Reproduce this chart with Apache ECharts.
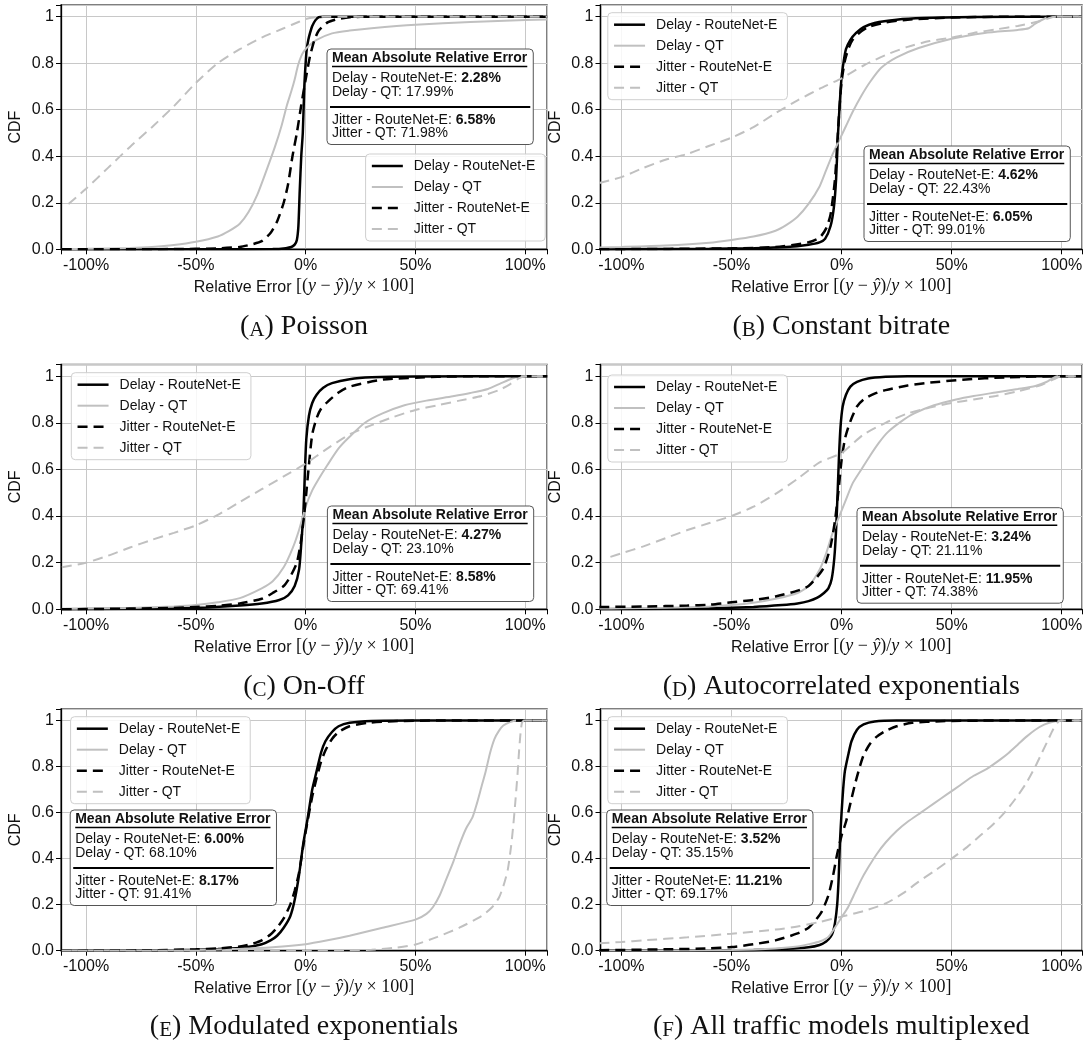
<!DOCTYPE html>
<html><head><meta charset="utf-8">
<script src="https://cdn.jsdelivr.net/npm/echarts@6/dist/echarts.min.js"></script>
<style>html,body{margin:0;padding:0;background:#fff}#c{width:1085px;height:1045px}</style>
</head><body><div id="c"></div>
<script>
// ---------------- DATA ----------------
const seriesNames = ['Delay - RouteNet-E', 'Delay - QT', 'Jitter - RouteNet-E', 'Jitter - QT'];
const panelLetters = ['A', 'B', 'C', 'D', 'E', 'F'];
const panelTitles = ['Poisson', 'Constant bitrate', 'On-Off', 'Autocorrelated exponentials', 'Modulated exponentials', 'All traffic models multiplexed'];
const maeDelayRN = ['2.28%', '4.62%', '4.27%', '3.24%', '6.00%', '3.52%'];
const maeDelayQT = ['17.99%', '22.43%', '23.10%', '21.11%', '68.10%', '35.15%'];
const maeJitterRN = ['6.58%', '6.05%', '8.58%', '11.95%', '8.17%', '11.21%'];
const maeJitterQT = ['71.98%', '99.01%', '69.41%', '74.38%', '91.41%', '69.17%'];
const xTickValues = [-100, -50, 0, 50, 100];
const yTickValues = [0, 0.2, 0.4, 0.6, 0.8, 1];

// (A) Poisson
const A_dRN_x = [-111, -40, -15, -9, -6.5, -5, -4, -3.3, -2.7, -2, -1.3, -0.6, 0, 0.5, 1.2, 2, 3, 4.5, 6, 8, 110];
const A_dRN_y = [0, 0, 0.001, 0.005, 0.01, 0.02, 0.04, 0.1, 0.25, 0.4, 0.5, 0.7, 0.8, 0.86, 0.9, 0.93, 0.96, 0.985, 0.998, 1, 1];
const A_dQT_x = [-111, -100, -80, -70, -60, -50, -40, -35, -30, -26, -22, -18, -14, -11, -8.5, -6.5, -5, -3.5, -2, -0.5, 1.5, 5, 12, 20, 30, 50, 75, 100, 110];
const A_dQT_y = [0.001, 0.002, 0.006, 0.01, 0.018, 0.032, 0.055, 0.078, 0.11, 0.16, 0.235, 0.335, 0.44, 0.53, 0.62, 0.68, 0.73, 0.79, 0.83, 0.855, 0.875, 0.9, 0.928, 0.94, 0.95, 0.965, 0.977, 0.985, 0.988];
const A_jRN_x = [-111, -60, -40, -30, -25, -20, -16, -13, -10, -8, -6, -4, -2, 0, 2, 4, 6, 10, 15, 20, 30, 110];
const A_jRN_y = [0, 0.001, 0.004, 0.01, 0.02, 0.035, 0.07, 0.12, 0.2, 0.28, 0.4, 0.5, 0.62, 0.73, 0.83, 0.9, 0.94, 0.975, 0.99, 0.997, 1, 1];
const A_jQT_x = [-108, -100, -90, -80, -70, -60, -50, -40, -30, -20, -10, -3, 0, 5, 10, 110];
const A_jQT_y = [0.195, 0.26, 0.35, 0.44, 0.525, 0.615, 0.715, 0.8, 0.86, 0.91, 0.95, 0.978, 0.99, 0.998, 1, 1];

// (B) Constant bitrate
const B_dRN_x = [-110, -60, -40, -25, -15, -10, -7.5, -5, -3.5, -2.5, -1.6, -0.8, 0, 1, 2, 4, 6.6, 10, 15, 25, 37, 60, 100, 109];
const B_dRN_y = [0, 0.002, 0.005, 0.01, 0.02, 0.03, 0.045, 0.1, 0.18, 0.3, 0.5, 0.63, 0.74, 0.81, 0.86, 0.9, 0.93, 0.955, 0.973, 0.987, 0.994, 0.998, 1, 1];
const B_dQT_x = [-110, -100, -80, -60, -50, -40, -30, -25, -20, -15, -10, -7, -4, -1, 2, 5, 9, 13, 18, 25, 35, 50, 65, 80, 85, 88, 93, 96, 109];
const B_dQT_y = [0.008, 0.01, 0.016, 0.028, 0.04, 0.055, 0.08, 0.105, 0.14, 0.195, 0.27, 0.34, 0.41, 0.47, 0.53, 0.59, 0.66, 0.72, 0.78, 0.825, 0.865, 0.905, 0.93, 0.943, 0.95, 0.97, 0.995, 1, 1];
const B_jRN_x = [-110, -50, -30, -15, -10, -7, -5, -3, -2, -1, 0, 1.5, 3, 5, 8, 12, 20, 30, 50, 80, 109];
const B_jRN_y = [0, 0.004, 0.01, 0.03, 0.05, 0.09, 0.15, 0.3, 0.45, 0.6, 0.72, 0.81, 0.86, 0.9, 0.93, 0.955, 0.975, 0.987, 0.996, 1, 1];
const B_jQT_x = [-110, -100, -90, -80, -70, -60, -50, -40, -30, -20, -10, 0, 10, 20, 30, 40, 50, 60, 70, 80, 90, 96, 100, 109];
const B_jQT_y = [0.285, 0.31, 0.35, 0.385, 0.41, 0.445, 0.48, 0.525, 0.585, 0.64, 0.69, 0.735, 0.79, 0.835, 0.87, 0.895, 0.91, 0.93, 0.945, 0.96, 0.98, 0.998, 1, 1];

// (C) On-Off
const C_dRN_x = [-111, -80, -60, -45, -30, -20, -12, -8, -5, -3, -2, -1, -0.3, 0.3, 1.5, 3, 5, 8, 12, 20, 30, 50, 110];
const C_dRN_y = [0, 0.002, 0.004, 0.008, 0.016, 0.025, 0.04, 0.06, 0.1, 0.17, 0.28, 0.42, 0.6, 0.73, 0.83, 0.885, 0.92, 0.95, 0.97, 0.987, 0.995, 0.999, 1];
const C_dQT_x = [-111, -100, -80, -60, -50, -40, -30, -20, -15, -10, -6, -3, 0, 3, 6, 10, 15, 20, 27, 35, 45, 55, 67, 75, 83, 89, 94, 98, 110];
const C_dQT_y = [0.002, 0.003, 0.006, 0.012, 0.018, 0.03, 0.048, 0.09, 0.12, 0.18, 0.26, 0.34, 0.44, 0.51, 0.56, 0.62, 0.69, 0.74, 0.8, 0.84, 0.875, 0.895, 0.914, 0.928, 0.945, 0.97, 0.99, 1, 1];
const C_jRN_x = [-111, -80, -60, -50, -40, -30, -20, -15, -10, -7, -4, -2, -0.5, 0.5, 1.5, 3, 5, 7, 10, 15, 20, 35, 60, 80, 110];
const C_jRN_y = [0, 0.003, 0.006, 0.01, 0.015, 0.025, 0.045, 0.07, 0.1, 0.14, 0.2, 0.3, 0.42, 0.52, 0.62, 0.75, 0.82, 0.86, 0.89, 0.93, 0.955, 0.985, 0.997, 1, 1];
const C_jQT_x = [-111, -100, -90, -80, -70, -60, -50, -40, -30, -20, -10, 0, 10, 20, 30, 40, 50, 60, 70, 80, 88, 93, 97, 100, 110];
const C_jQT_y = [0.18, 0.2, 0.23, 0.265, 0.298, 0.328, 0.36, 0.405, 0.46, 0.515, 0.57, 0.625, 0.69, 0.75, 0.79, 0.825, 0.855, 0.875, 0.895, 0.915, 0.94, 0.965, 0.99, 1, 1];

// (D) Autocorrelated exponentials
const D_dRN_x = [-110, -80, -60, -40, -27, -20, -15, -11, -8, -6, -4.5, -3.3, -2.5, -1.8, -1.2, -0.5, 0.5, 2, 4, 7, 12, 20, 30, 109];
const D_dRN_y = [0, 0.002, 0.004, 0.01, 0.018, 0.025, 0.035, 0.05, 0.07, 0.09, 0.13, 0.22, 0.34, 0.5, 0.65, 0.78, 0.87, 0.92, 0.955, 0.975, 0.99, 0.997, 1, 1];
const D_dQT_x = [-110, -100, -80, -60, -50, -40, -30, -20, -15, -10, -7, -4, -1, 2, 5, 9, 13, 17, 21, 27, 33, 42, 52, 60, 70, 80, 88, 93, 98, 109];
const D_dQT_y = [0.003, 0.004, 0.007, 0.012, 0.018, 0.028, 0.045, 0.07, 0.1, 0.17, 0.24, 0.33, 0.4, 0.47, 0.54, 0.6, 0.66, 0.715, 0.76, 0.805, 0.84, 0.875, 0.9, 0.915, 0.93, 0.945, 0.958, 0.975, 1, 1];
const D_jRN_x = [-110, -90, -70, -60, -50, -40, -30, -20, -15, -11, -8, -5, -3, -1.5, 0, 1.5, 3, 5, 7, 10, 15, 20, 30, 40, 55, 75, 100, 109];
const D_jRN_y = [0.01, 0.012, 0.016, 0.02, 0.03, 0.04, 0.055, 0.08, 0.1, 0.14, 0.18, 0.27, 0.38, 0.5, 0.64, 0.73, 0.78, 0.83, 0.87, 0.9, 0.925, 0.94, 0.96, 0.972, 0.985, 0.995, 1, 1];
const D_jQT_x = [-105, -100, -90, -80, -70, -60, -50, -40, -30, -20, -10, 0, 5, 10, 20, 30, 40, 50, 60, 70, 80, 90, 96, 100, 109];
const D_jQT_y = [0.225, 0.24, 0.27, 0.305, 0.34, 0.37, 0.4, 0.44, 0.495, 0.56, 0.63, 0.67, 0.71, 0.75, 0.8, 0.84, 0.865, 0.885, 0.9, 0.915, 0.935, 0.96, 0.985, 1, 1];

// (E) Modulated exponentials
const E_dRN_x = [-111, -70, -50, -40, -30, -25, -20, -16, -13, -10, -7, -5, -3, -1, 1, 3, 5, 7, 9, 12, 15, 20, 30, 50, 110];
const E_dRN_y = [0, 0.001, 0.004, 0.007, 0.012, 0.018, 0.028, 0.045, 0.065, 0.1, 0.15, 0.22, 0.33, 0.47, 0.58, 0.7, 0.78, 0.86, 0.91, 0.95, 0.975, 0.99, 0.998, 1, 1];
const E_dQT_x = [-111, -70, -50, -30, -15, 0, 10, 20, 35, 50, 55, 58, 61, 64, 67, 70, 73, 76, 78, 80, 82, 84, 86, 88, 90, 93, 96, 110];
const E_dQT_y = [0, 0.001, 0.003, 0.008, 0.015, 0.028, 0.045, 0.065, 0.1, 0.135, 0.16, 0.19, 0.24, 0.31, 0.38, 0.46, 0.53, 0.58, 0.64, 0.71, 0.78, 0.86, 0.92, 0.955, 0.978, 0.993, 1, 1];
const E_jRN_x = [-111, -70, -50, -40, -30, -25, -20, -16, -13, -10, -7, -5, -3, -1, 1, 3, 5, 7, 9, 12, 15, 20, 28, 40, 60, 110];
const E_jRN_y = [0, 0.002, 0.006, 0.01, 0.018, 0.028, 0.045, 0.07, 0.1, 0.14, 0.2, 0.26, 0.34, 0.46, 0.57, 0.67, 0.75, 0.82, 0.87, 0.92, 0.95, 0.975, 0.99, 0.997, 1, 1];
const E_jQT_x = [-111, 0, 20, 30, 40, 50, 60, 70, 80, 85, 88, 90, 92, 93.5, 94.6, 95.6, 96.5, 97.2, 97.8, 98.5, 99.5, 110];
const E_jQT_y = [0, 0, 0.002, 0.004, 0.012, 0.027, 0.06, 0.1, 0.15, 0.19, 0.23, 0.28, 0.35, 0.45, 0.55, 0.66, 0.77, 0.87, 0.94, 0.99, 1, 1];

// (F) All traffic models multiplexed
const F_dRN_x = [-110, -60, -40, -25, -15, -10, -7, -5, -4, -3, -2, -1.3, -0.7, 0, 0.7, 1.5, 3, 4.5, 7, 10, 15, 25, 109];
const F_dRN_y = [0, 0.001, 0.003, 0.008, 0.015, 0.025, 0.04, 0.06, 0.08, 0.12, 0.2, 0.32, 0.48, 0.6, 0.7, 0.78, 0.85, 0.91, 0.96, 0.983, 0.996, 1, 1];
const F_dQT_x = [-110, -70, -50, -30, -20, -14, -10, -6, -3, 0, 3, 6, 9, 12, 16, 20, 25, 30, 36, 42, 48, 54, 60, 66, 72, 76, 80, 84, 88, 92, 96, 100, 109];
const F_dQT_y = [0, 0.001, 0.003, 0.01, 0.018, 0.03, 0.04, 0.06, 0.1, 0.145, 0.19, 0.25, 0.31, 0.36, 0.42, 0.47, 0.52, 0.56, 0.6, 0.64, 0.68, 0.72, 0.76, 0.79, 0.83, 0.86, 0.895, 0.93, 0.96, 0.982, 0.995, 1, 1];
const F_jRN_x = [-110, -80, -60, -50, -40, -30, -20, -15, -12, -9, -6, -4, -2, 0, 2, 4, 6, 8, 10, 13, 16, 20, 25, 32, 45, 70, 109];
const F_jRN_y = [0.002, 0.006, 0.01, 0.016, 0.028, 0.045, 0.075, 0.1, 0.13, 0.17, 0.24, 0.32, 0.42, 0.5, 0.56, 0.64, 0.72, 0.79, 0.85, 0.9, 0.93, 0.955, 0.975, 0.99, 0.997, 1, 1];
const F_jQT_x = [-110, -100, -90, -70, -50, -30, -20, -10, 0, 10, 20, 28, 35, 42, 50, 57, 63, 69, 74, 79, 84, 88, 91, 94, 96, 98, 99.5, 109];
const F_jQT_y = [0.032, 0.038, 0.045, 0.058, 0.074, 0.092, 0.105, 0.125, 0.148, 0.172, 0.205, 0.25, 0.3, 0.345, 0.4, 0.45, 0.5, 0.55, 0.6, 0.66, 0.73, 0.8, 0.86, 0.92, 0.96, 0.99, 1, 1];

const panelData = [
  [[A_dRN_x, A_dRN_y], [A_dQT_x, A_dQT_y], [A_jRN_x, A_jRN_y], [A_jQT_x, A_jQT_y]],
  [[B_dRN_x, B_dRN_y], [B_dQT_x, B_dQT_y], [B_jRN_x, B_jRN_y], [B_jQT_x, B_jQT_y]],
  [[C_dRN_x, C_dRN_y], [C_dQT_x, C_dQT_y], [C_jRN_x, C_jRN_y], [C_jQT_x, C_jQT_y]],
  [[D_dRN_x, D_dRN_y], [D_dQT_x, D_dQT_y], [D_jRN_x, D_jRN_y], [D_jQT_x, D_jQT_y]],
  [[E_dRN_x, E_dRN_y], [E_dQT_x, E_dQT_y], [E_jRN_x, E_jRN_y], [E_jQT_x, E_jQT_y]],
  [[F_dRN_x, F_dRN_y], [F_dQT_x, F_dQT_y], [F_jRN_x, F_jRN_y], [F_jQT_x, F_jQT_y]]
];

// ---------------- LAYOUT / STYLE ----------------
const SANS = '"Liberation Sans", Arial, sans-serif';
const SERIF = '"Liberation Serif", "Times New Roman", serif';
const TXT = '#111';
const layout = {
  colLeft: [61, 600.5], colWidth: [486, 481.5],
  rowTop: [5, 364.5, 709], rowHeight: [244.3, 244.8, 241.7],
  xRange: [[-111.4, 109.9], [-109.5, 109.2]],
  captionY: [327, 686.5, 1027],
  legendPos: [[365.6, 154], [607.8, 12.7], [71.3, 372.7], [607.8, 375], [70.6, 716.7], [607.8, 716.7]],
  boxPos: [[327, 49], [864, 146], [327.4, 506], [857, 507.7], [70.2, 810], [606.7, 810]]
};
const seriesStyle = [
  { color: '#000000', width: 2.5, type: 'solid' },
  { color: '#c0c0c0', width: 2.0, type: 'solid' },
  { color: '#000000', width: 2.5, type: [10, 6] },
  { color: '#c0c0c0', width: 2.0, type: [10, 6] }
];

const mc = document.createElement('canvas').getContext('2d');
function textW(str, weight) { mc.font = (weight || 'normal') + ' 14px ' + SANS; return mc.measureText(str).width; }

function fmtX(v) { const r = v / 50; return Math.abs(r - Math.round(r)) < 1e-6 ? Math.round(v) + '%' : ''; }
function fmtY(v) {
  const r = v / 0.2; if (Math.abs(r - Math.round(r)) > 1e-6) return '';
  if (Math.abs(v - 1) < 1e-9) return '1'; return v.toFixed(1);
}

const grids = [], xAxes = [], yAxes = [], series = [], legends = [], graphics = [];
for (let p = 0; p < 6; p++) {
  const col = p % 2, row = Math.floor(p / 2);
  grids.push({ left: layout.colLeft[col], top: layout.rowTop[row], width: layout.colWidth[col], height: layout.rowHeight[row],
    show: true, borderColor: '#555', borderWidth: 1.5, backgroundColor: 'transparent', containLabel: false, outerBoundsMode: 'none' });
  xAxes.push({ type: 'value', gridIndex: p, min: layout.xRange[col][0], max: layout.xRange[col][1], splitNumber: 5,
    axisLine: { onZero: false, lineStyle: { color: '#000', width: 1.3 } },
    axisTick: { show: true, length: 5, lineStyle: { color: '#000', width: 1 } },
    axisLabel: { formatter: fmtX, fontSize: 16, fontFamily: SANS, color: TXT, margin: 8 },
    splitLine: { show: true, lineStyle: { color: '#c8c8c8', width: 1 } },
    name: '{s|Relative Error }{m|[(}{i|y}{m| − }{i|ŷ}{m|)/}{i|y}{m| × 100]}',
    nameLocation: 'middle', nameGap: 28,
    nameTextStyle: { color: TXT, fontSize: 16, fontFamily: SANS, rich: {
      s: { fontFamily: SANS, fontSize: 16, color: TXT, verticalAlign: 'bottom' },
      m: { fontFamily: SERIF, fontSize: 18, color: TXT, verticalAlign: 'bottom' },
      i: { fontFamily: SERIF, fontSize: 18, fontStyle: 'italic', color: TXT, verticalAlign: 'bottom' } } } });
  yAxes.push({ type: 'value', gridIndex: p, min: 0, max: 1.05, interval: 0.2,
    axisLine: { onZero: false, lineStyle: { color: '#000', width: 1.3 } },
    axisTick: { show: true, length: 5, lineStyle: { color: '#000', width: 1 } },
    axisLabel: { formatter: fmtY, fontSize: 16, fontFamily: SANS, color: TXT, margin: 7 },
    splitLine: { show: true, lineStyle: { color: '#c8c8c8', width: 1 } },
    name: 'CDF', nameLocation: 'middle', nameGap: 37, nameRotate: 90,
    nameTextStyle: { color: TXT, fontSize: 16, fontFamily: SANS } });
  for (let s = 0; s < 4; s++) {
    const xs = panelData[p][s][0], ys = panelData[p][s][1];
    const st = seriesStyle[s];
    series.push({ type: 'line', name: seriesNames[s], xAxisIndex: p, yAxisIndex: p,
      data: xs.map((x, i) => [x, ys[i]]), showSymbol: false, symbol: 'none',
      smooth: 0.22, clip: true, z: 2 + s,
      lineStyle: { color: st.color, width: st.width, type: st.type },
      itemStyle: { color: st.color }, emphasis: { disabled: true } });
  }
  legends.push({ orient: 'vertical', left: layout.legendPos[p][0], top: layout.legendPos[p][1],
    data: seriesNames.map((n, s) => ({ name: n,
      itemStyle: { opacity: 0, borderWidth: 0, color: 'rgba(0,0,0,0)' },
      lineStyle: { color: seriesStyle[s].color, width: seriesStyle[s].width, type: seriesStyle[s].type } })),
    itemStyle: { opacity: 0, borderWidth: 0 },
    itemWidth: 31, itemHeight: 14, itemGap: 7, padding: [5, 10, 5, 5], selectedMode: false,
    backgroundColor: 'rgba(255,255,255,0.85)', borderColor: '#cfcfcf', borderWidth: 1, borderRadius: 4,
    textStyle: { fontFamily: SANS, fontSize: 14, color: TXT, padding: [0, 0, 0, 6] }, z: 20 });

  // Mean Absolute Relative Error box
  const title = 'Mean Absolute Relative Error';
  const l1a = 'Delay - RouteNet-E: ', l3a = 'Jitter - RouteNet-E: ';
  const tW = textW(title, 'bold');
  const w = Math.max(tW, textW(l1a) + textW(maeDelayRN[p], 'bold'), textW(l3a) + textW(maeJitterRN[p], 'bold')) + 11;
  const px = 5, ZB = 100;
  const mk = (txt, x, y, bold) => ({ type: 'text', x: x, y: y, z: ZB + 2, style: { text: txt, fontSize: 14, fontFamily: SANS,
    fontWeight: bold ? 'bold' : 'normal', fill: TXT, verticalAlign: 'middle', textVerticalAlign: 'middle' } });
  graphics.push({ type: 'group', x: layout.boxPos[p][0], y: layout.boxPos[p][1], z: ZB, children: [
    { type: 'rect', z: ZB, shape: { x: 0, y: 0, width: w, height: 95.5, r: 4 }, style: { fill: '#ffffff', stroke: '#555', lineWidth: 1 } },
    mk(title, px, 9, true),
    { type: 'line', z: ZB + 1, shape: { x1: px, y1: 17.5, x2: px + tW, y2: 17.5 }, style: { stroke: '#000', lineWidth: 1.4 } },
    mk(l1a, px, 29), mk(maeDelayRN[p], px + textW(l1a), 29, true),
    mk('Delay - QT: ' + maeDelayQT[p], px, 43.5),
    { type: 'line', z: ZB + 1, shape: { x1: 3, y1: 58, x2: w - 3, y2: 58 }, style: { stroke: '#000', lineWidth: 2 } },
    mk(l3a, px, 71), mk(maeJitterRN[p], px + textW(l3a), 71, true),
    mk('Jitter - QT: ' + maeJitterQT[p], px, 84.5)
  ] });

  // caption
  graphics.push({ type: 'text', x: layout.colLeft[col] + layout.colWidth[col] / 2, y: layout.captionY[row], z: ZB,
    style: { text: '({sc|' + panelLetters[p] + '}) ' + panelTitles[p], fontSize: 28, fontFamily: SERIF, fill: TXT,
      align: 'center', verticalAlign: 'middle', textAlign: 'center', textVerticalAlign: 'middle',
      rich: { sc: { fontSize: 21, fontFamily: SERIF, fill: TXT, verticalAlign: 'bottom' } } } });
}

const chart = echarts.init(document.getElementById('c'), null, { renderer: 'canvas', width: 1085, height: 1045 });
chart.setOption({
  animation: false, backgroundColor: '#ffffff',
  grid: grids, xAxis: xAxes, yAxis: yAxes, series: series, legend: legends,
  graphic: { elements: graphics }
});
</script></body></html>
